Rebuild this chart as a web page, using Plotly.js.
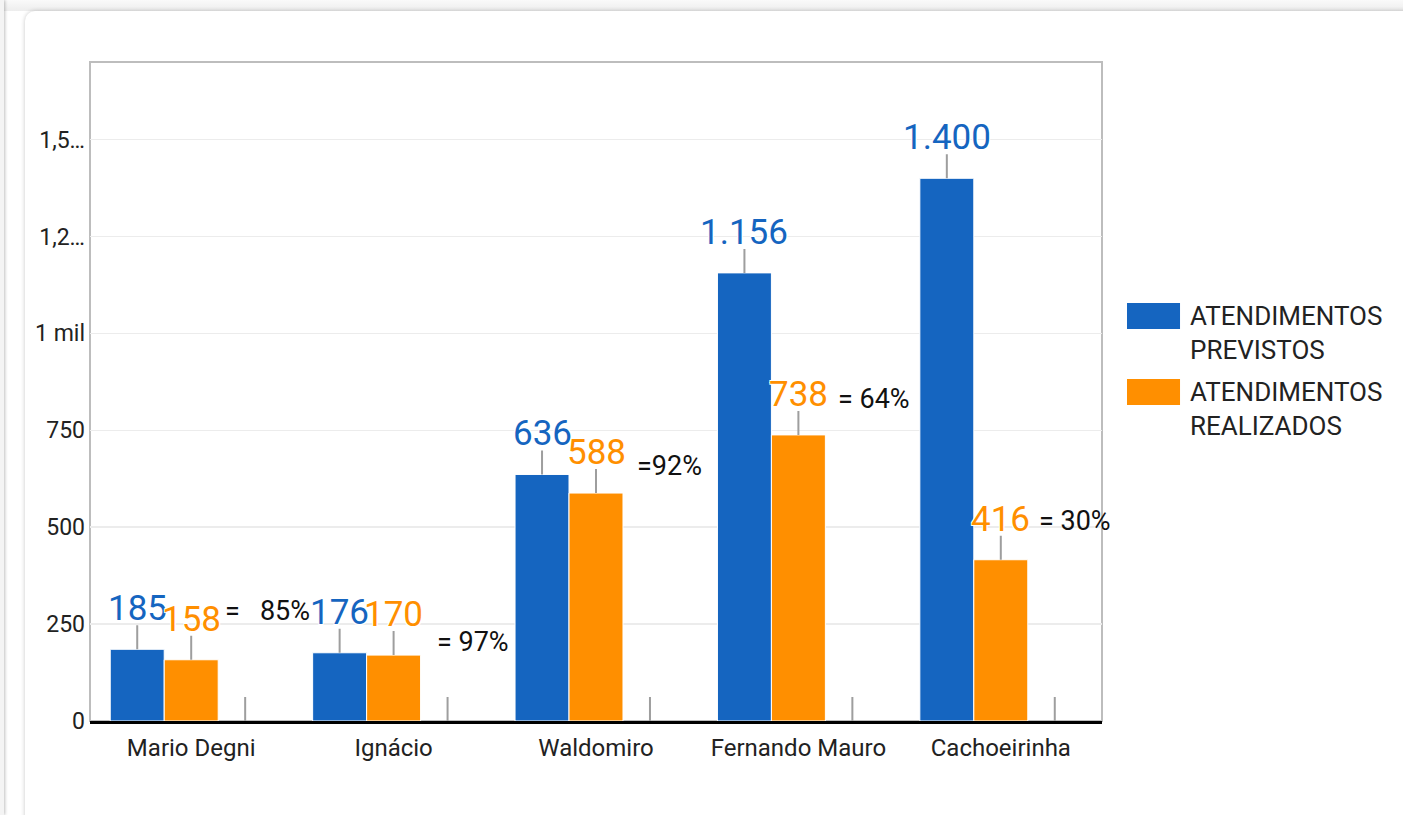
<!DOCTYPE html>
<html>
<head>
<meta charset="utf-8">
<script src="https://cdn.plot.ly/plotly-3.0.1.min.js"></script>
<style>
  html, body { margin:0; padding:0; background:#ffffff; width:1403px; height:815px; overflow:hidden; }
  #topbar { position:absolute; left:0; top:0; width:1403px; height:11px; background:linear-gradient(#fafafa,#ededed); }
  #leftcard { position:absolute; left:-20px; top:0; width:24px; height:815px; background:#f4f4f4; box-shadow:1px 0 3px rgba(0,0,0,0.25); }
  #card { position:absolute; left:25px; top:11px; width:1400px; height:830px; background:#fff; border-radius:10px; box-shadow:0 0 4px rgba(0,0,0,0.22); }
  #chart { position:absolute; left:0; top:0; width:1403px; height:815px; }
</style>
</head>
<body>
<div id="topbar"></div>
<div id="leftcard"></div>
<div id="card"></div>
<div id="chart"></div>
<script>
// ---- data ----
const categories = ['Mario Degni', 'Ignácio', 'Waldomiro', 'Fernando Mauro', 'Cachoeirinha'];
const previstos = [185, 176, 636, 1156, 1400];
const realizados = [158, 170, 588, 738, 416];
const terceiraSerie = [0, 0, 0, 0, 0];
const seriesNames = ['ATENDIMENTOS PREVISTOS', 'ATENDIMENTOS REALIZADOS'];
const legendLabels = ['ATENDIMENTOS<br>PREVISTOS', 'ATENDIMENTOS<br>REALIZADOS'];
const percentLabels = ['=\u00a0\u00a0\u00a085%', '= 97%', '=92%', '= 64%', '= 30%'];
const yTickVals = [0, 250, 500, 750, 1000, 1250, 1500];
const yTickText = ['0', '250', '500', '750', '1 mil', '1,2…', '1,5…'];

// ---- styles / placement ----
const BLUE = '#1565C0', ORANGE = '#FF8F00';
const idx = categories.map((c, i) => i);
const barW = 0.8 / 3;
const pctPlace = [ [0.16, 284], [1.21, 204], [2.196, 657], [3.19, 830], [4.186, 515] ];

function fmt(v) { return String(v).replace(/\B(?=(\d{3})+(?!\d))/g, '.'); }

const halo = '1px 1px 0 #fff, -1px -1px 0 #fff, 1px -1px 0 #fff, -1px 1px 0 #fff';

const traces = [
  { type:'bar', x: idx, y: previstos, name: seriesNames[0], marker:{color:BLUE, line:{color:'#fff', width:1}}, showlegend:false, hoverinfo:'skip' },
  { type:'bar', x: idx, y: realizados, name: seriesNames[1], marker:{color:ORANGE, line:{color:'#fff', width:1}}, showlegend:false, hoverinfo:'skip' },
  { type:'bar', x: idx, y: terceiraSerie, name: '', marker:{color:'rgba(0,0,0,0)'}, showlegend:false, hoverinfo:'skip' }
];

const annotations = [];
function leader(x, y, text, color) {
  // leader line
  annotations.push({
    x: x, y: y, xref:'x', yref:'y', text: ' ', showarrow: true,
    ax: 0, ay: -24, arrowhead: 0, arrowwidth: 2, arrowcolor: '#9e9e9e',
    standoff: 0, startstandoff: 0, yanchor: 'bottom', borderpad: 0,
    font: { family:'Roboto', size: 4, color: color }
  });
  // value label
  if (text) {
    annotations.push({
      x: x, y: y, xref:'x', yref:'y', text: text, showarrow: false,
      yanchor: 'bottom', xanchor: 'center', yshift: 19, borderpad: 0,
      font: { family:'Roboto', size: 35, color: color, shadow: halo }
    });
  }
}
idx.forEach(i => {
  leader(i - barW, previstos[i], fmt(previstos[i]), BLUE);
  leader(i, realizados[i], fmt(realizados[i]), ORANGE);
  leader(i + barW, terceiraSerie[i], '', '#000');
});
percentLabels.forEach((t, i) => {
  annotations.push({
    x: pctPlace[i][0], y: pctPlace[i][1], xref:'x', yref:'y', text: t, showarrow:false,
    xanchor:'left', yanchor:'middle', borderpad:0,
    font:{ family:'Roboto', size: 27, color:'#111' }
  });
});
// custom legend
const legendColors = [BLUE, ORANGE];
const legendY = [0.5895, 0.4734];
const shapes = [
  { type:'rect', xref:'paper', yref:'paper', x0:0, x1:1, y0:0, y1:1, line:{color:'#bdbdbd', width:2}, layer:'below' }
];
legendLabels.forEach((t, k) => {
  const yc = k === 0 ? 0.6146 : 0.4993;
  shapes.push({ type:'rect', xref:'paper', yref:'paper', x0:1.0247, x1:1.0771, y0: yc - 0.0197, y1: yc + 0.0197, fillcolor: legendColors[k], line:{width:0} });
  annotations.push({ xref:'paper', yref:'paper', x:1.0845, y: legendY[k], text: t, showarrow:false, xanchor:'left', yanchor:'middle', align:'left',
    font:{ family:'Roboto', size: 26, color:'#222' } });
});

const layout = {
  width: 1403, height: 815,
  margin: { l: 90, r: 301, t: 62, b: 94 },
  paper_bgcolor: 'rgba(0,0,0,0)', plot_bgcolor: '#fff',
  barmode: 'group', bargap: 0.2, bargroupgap: 0,
  font: { family: 'Roboto', color: '#222' },
  xaxis: { range: [-0.5, 4.5], tickvals: idx, ticktext: categories, showgrid: false, zeroline: false,
           showline: true, linecolor: '#000', linewidth: 2.5, ticks: '', tickfont: { size: 24, color: '#222' }, ticklabelstandoff: 4, fixedrange: true },
  yaxis: { range: [0, 1700], tickvals: yTickVals, ticktext: yTickText, showgrid: true, gridcolor: '#ececec', gridwidth: 1.5,
           zeroline: false, showline: false, ticks: '', tickfont: { size: 23, color: '#222' }, ticklabelstandoff: 4, fixedrange: true },
  shapes: shapes,
  annotations: annotations,
  showlegend: false
};

Plotly.newPlot('chart', traces, layout, { displayModeBar: false, staticPlot: true });
</script>
</body>
</html>
